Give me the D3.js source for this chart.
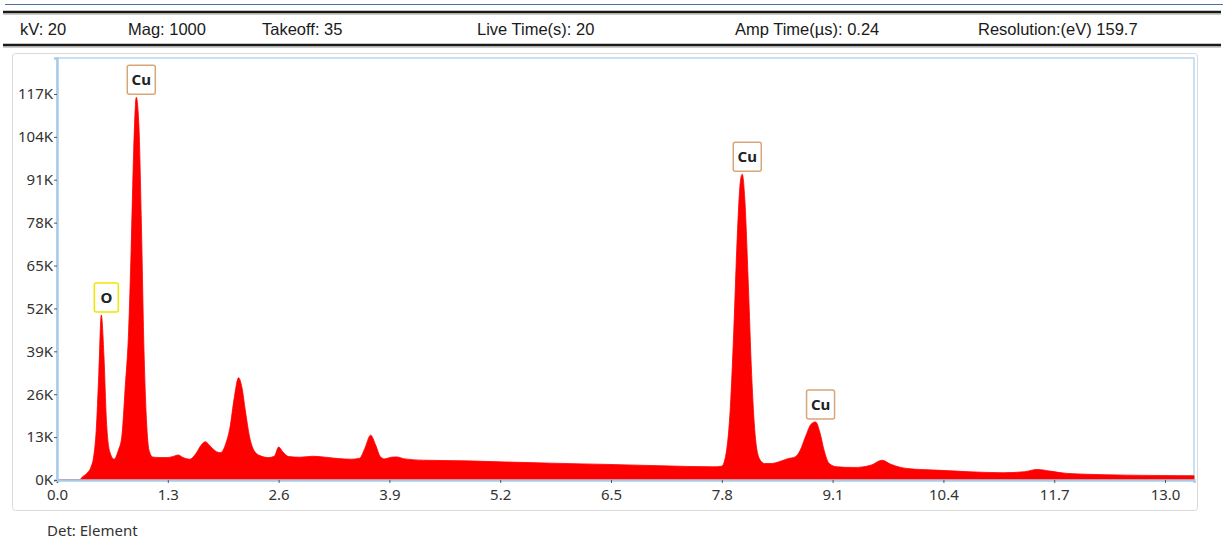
<!DOCTYPE html>
<html>
<head>
<meta charset="utf-8">
<script src="https://cdn.jsdelivr.net/npm/d3@7"></script>
<style>
  body { margin: 0; background: #fff; }
  svg { display: block; }
</style>
</head>
<body>
<div id="chart"></div>
<script>
// header fields shown above the spectrum
var headerItems = ["kV: 20", "Mag: 1000", "Takeoff: 35", "Live Time(s): 20", "Amp Time(\u00b5s): 0.24", "Resolution:(eV) 159.7"];

// spectrum: energy (keV) and counts (thousands)
var energy = [0.00, 0.26, 0.30, 0.35, 0.40, 0.43, 0.46, 0.49, 0.52, 0.55, 0.58, 0.62, 0.67, 0.72, 0.76, 0.80,
  0.84, 0.87, 0.90, 0.93, 0.96, 0.99, 1.02, 1.05, 1.08, 1.12, 1.20, 1.30, 1.37, 1.42, 1.48, 1.56, 1.63, 1.69,
  1.74, 1.80, 1.87, 1.92, 1.98, 2.03, 2.08, 2.13, 2.17, 2.21, 2.26, 2.31, 2.38, 2.48, 2.55, 2.60, 2.65, 2.72,
  2.85, 3.00, 3.15, 3.30, 3.45, 3.55, 3.61, 3.68, 3.74, 3.79, 3.84, 3.92, 3.98, 4.08, 4.30, 4.80, 5.20, 5.80,
  6.50, 7.10, 7.70, 7.80, 7.85, 7.90, 7.94, 7.98, 8.02, 8.04, 8.07, 8.11, 8.15, 8.19, 8.24, 8.30, 8.38, 8.48,
  8.58, 8.66, 8.72, 8.78, 8.85, 8.90, 8.95, 9.00, 9.06, 9.15, 9.35, 9.55, 9.68, 9.78, 9.90, 10.05, 10.30,
  10.70, 11.10, 11.35, 11.50, 11.65, 11.85, 12.30, 12.80, 13.34];
var counts = [0, 0, 1.0, 2.0, 4.0, 7, 15, 32, 50, 38, 18, 8.5, 6.3, 9, 13, 28,
  45, 70, 100, 116, 108, 78, 40, 18, 9, 7, 6.8, 6.8, 7.2, 7.6, 6.8, 6.3, 8, 10.5,
  11.6, 10.2, 8.6, 8.3, 11, 16, 25, 31, 28, 21, 13, 9, 7.4, 6.8, 7.2, 10, 8.5, 7.1,
  6.9, 7.2, 6.9, 6.5, 6.3, 6.6, 9.5, 13.6, 10.5, 7.2, 6.4, 6.9, 7.0, 6.4, 6.0, 5.8, 5.5, 5.1,
  4.7, 4.3, 4.0, 4.2, 8, 22, 45, 73, 91, 92.7, 85, 60, 32, 14, 6.5, 5, 5, 5.6,
  6.5, 7, 9, 13, 17, 17.6, 14.5, 9, 5, 4, 3.8, 4.5, 6, 4.8, 3.8, 3.3, 3.0,
  2.5, 2.2, 2.5, 3.2, 2.7, 2.0, 1.6, 1.4, 1.3];

// peak labels
var labelText = ["O", "Cu", "Cu", "Cu"];
var labelEnergy = [0.52, 0.93, 8.04, 8.90];
var labelCounts = [50, 116, 92.7, 17.6];
var labelColor = ["#f2e600", "#d9a679", "#d9a679", "#d9a679"];

var xTicks = [0.0, 1.3, 2.6, 3.9, 5.2, 6.5, 7.8, 9.1, 10.4, 11.7, 13.0];
var yTicks = [0, 13, 26, 39, 52, 65, 78, 91, 104, 117];

var width = 1223;
var height = 542;

var svg = d3.select("#chart")
    .append("svg")
    .attr("width", width)
    .attr("height", height);

// header rules
svg.append("line")
    .attr("x1", 5).attr("x2", 1223).attr("y1", 4.5).attr("y2", 4.5)
    .attr("stroke", "#4d6fa3").attr("stroke-width", 1.2);
[12, 45].forEach(function(y) {
    svg.append("line")
        .attr("x1", 3).attr("x2", 1221).attr("y1", y).attr("y2", y)
        .attr("stroke", "#1a1a1a").attr("stroke-width", 2.5);
    svg.append("line")
        .attr("x1", 3).attr("x2", 1221).attr("y1", y + 2).attr("y2", y + 2)
        .attr("stroke", "#9a9a9a").attr("stroke-width", 1);
});

var headerX = [20, 128, 262, 477, 735, 978];
svg.selectAll(".hdr")
    .data(headerItems)
    .enter().append("text")
    .attr("class", "hdr")
    .attr("x", function(d, i) { return headerX[i]; })
    .attr("y", 35)
    .attr("font-family", "'Liberation Sans', Arial, sans-serif")
    .attr("font-size", 16.5)
    .attr("fill", "#1a1a1a")
    .text(function(d) { return d; });

// outer panel
svg.append("rect")
    .attr("x", 12.5).attr("y", 53.5)
    .attr("width", 1185).attr("height", 457)
    .attr("rx", 3)
    .attr("fill", "none")
    .attr("stroke", "#d9d9d9");

var margin = {left: 57, top: 58, right: 1194, bottom: 480};

var x = d3.scaleLinear().domain([0, 13.34]).range([margin.left, margin.right]);
var y = d3.scaleLinear().domain([0, 127.9]).range([margin.bottom, margin.top]);

// plot frame
svg.append("rect")
    .attr("x", margin.left).attr("y", margin.top)
    .attr("width", margin.right - margin.left)
    .attr("height", margin.bottom - margin.top)
    .attr("fill", "none")
    .attr("stroke", "#a9cbe8")
    .attr("stroke-width", 1.2);

var spectrum = energy.map(function(e, i) { return {e: e, c: counts[i]}; });

var area = d3.area()
    .curve(d3.curveMonotoneX)
    .x(function(d) { return x(d.e); })
    .y0(y(0))
    .y1(function(d) { return y(d.c); });

svg.append("path")
    .datum(spectrum)
    .attr("d", area)
    .attr("fill", "#ff0000")
    .attr("stroke", "#ff0000")
    .attr("stroke-width", 0.8);

// axes
var xAxis = svg.append("g")
    .attr("transform", "translate(0," + margin.bottom + ")")
    .call(d3.axisBottom(x).tickValues(xTicks).tickFormat(d3.format(".1f")).tickSize(3).tickPadding(6));
var yAxis = svg.append("g")
    .attr("transform", "translate(" + margin.left + ",0)")
    .call(d3.axisLeft(y).tickValues(yTicks).tickFormat(function(d) { return d + "K"; }).tickSize(3).tickPadding(1));

[xAxis, yAxis].forEach(function(g) {
    g.select(".domain").attr("stroke", "#a9cbe8").attr("stroke-width", 2.5);
    g.selectAll(".tick line").attr("stroke", "#555");
    g.selectAll(".tick text")
        .attr("font-family", "'Noto Sans', sans-serif")
        .attr("font-size", 15)
        .attr("fill", "#333");
});

// peak labels
var labels = svg.selectAll(".peak")
    .data(labelText)
    .enter().append("g")
    .attr("class", "peak")
    .attr("transform", function(d, i) {
        return "translate(" + (x(labelEnergy[i]) + 5) + "," + (y(labelCounts[i]) - 3) + ")";
    });

labels.append("rect")
    .attr("x", function(d) { return d === "O" ? -12 : -14; })
    .attr("y", -29)
    .attr("width", function(d) { return d === "O" ? 24 : 28; })
    .attr("height", 29)
    .attr("rx", 2)
    .attr("fill", "#fff")
    .attr("stroke", function(d, i) { return labelColor[i]; })
    .attr("stroke-width", 1.5);

labels.append("text")
    .attr("x", 0)
    .attr("y", -9)
    .attr("text-anchor", "middle")
    .attr("font-family", "'Noto Sans', sans-serif")
    .attr("font-weight", "bold")
    .attr("font-size", 15)
    .attr("fill", "#222")
    .text(function(d) { return d; });

svg.append("text")
    .attr("x", 47)
    .attr("y", 536)
    .attr("font-family", "'Noto Sans', sans-serif")
    .attr("font-size", 15)
    .attr("fill", "#333")
    .text("Det: Element");
</script>
</body>
</html>
